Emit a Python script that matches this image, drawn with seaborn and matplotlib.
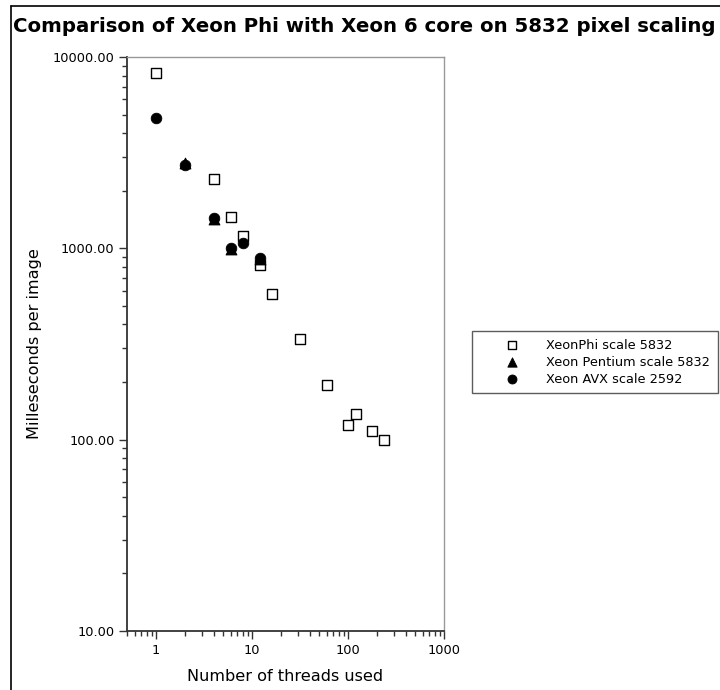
import numpy as np
import pandas as pd
import seaborn as sns
import matplotlib.pyplot as plt
from matplotlib.lines import Line2D
from matplotlib.ticker import FixedLocator, FuncFormatter, LogLocator, NullFormatter

# data
phi_threads = [1, 4, 6, 8, 12, 16, 32, 60, 100, 120, 180, 240]
phi_ms = [8250, 2300, 1460, 1160, 818, 577, 336, 193, 119, 136, 111, 100]

pentium_threads = [2, 4, 6, 12]
pentium_ms = [2800, 1420, 990, 875]

avx_threads = [1, 2, 4, 6, 8, 12]
avx_ms = [4800, 2720, 1440, 1000, 1065, 885]

sns.set_theme(style="white")
plt.rcParams['font.family'] = ['DejaVu Sans']
plt.rcParams['text.color'] = 'black'
plt.rcParams['axes.labelcolor'] = 'black'
plt.rcParams['xtick.color'] = 'black'
plt.rcParams['ytick.color'] = 'black'

fig = plt.figure(figsize=(7.2, 6.9), dpi=100)
ax = fig.add_axes([127 / 720, 1 - 631 / 690, (444 - 127) / 720, (631 - 57) / 690])

phi = pd.DataFrame({'threads': phi_threads, 'ms': phi_ms})
pent = pd.DataFrame({'threads': pentium_threads, 'ms': pentium_ms})
avx = pd.DataFrame({'threads': avx_threads, 'ms': avx_ms})

sns.scatterplot(data=phi, x='threads', y='ms', marker='s', s=55, facecolor='white',
                edgecolor='black', linewidth=1.0, label='XeonPhi scale 5832', ax=ax, zorder=3)
sns.scatterplot(data=pent, x='threads', y='ms', marker='^', s=62, color='black',
                edgecolor='black', label='Xeon Pentium scale 5832', ax=ax, zorder=4)
sns.scatterplot(data=avx, x='threads', y='ms', marker='o', s=58, color='black',
                edgecolor='black', label='Xeon AVX scale 2592', ax=ax, zorder=5)

ax.set_xscale('log')
ax.set_yscale('log')
ax.set_xlim(0.5, 1000)
ax.set_ylim(10, 10000)

ax.xaxis.set_major_locator(FixedLocator([1, 10, 100, 1000]))
ax.xaxis.set_major_formatter(FuncFormatter(lambda v, p: f"{v:g}"))
ax.xaxis.set_minor_locator(LogLocator(base=10, subs=np.arange(2, 10)))
ax.xaxis.set_minor_formatter(NullFormatter())
ax.yaxis.set_major_locator(FixedLocator([10, 100, 1000, 10000]))
ax.yaxis.set_major_formatter(FuncFormatter(lambda v, p: f"{v:.2f}"))
ax.yaxis.set_minor_locator(LogLocator(base=10, subs=np.arange(2, 10)))
ax.yaxis.set_minor_formatter(NullFormatter())

ax.tick_params(axis='both', which='major', direction='out', length=6, width=1,
               color='#333333', labelsize=9.3, left=True, bottom=True, pad=3)
ax.tick_params(axis='both', which='minor', direction='out', length=3.5, width=1,
               color='#333333', left=True, bottom=True)

for side in ['left', 'bottom']:
    ax.spines[side].set_color('#333333')
    ax.spines[side].set_linewidth(1.3)
for side in ['top', 'right']:
    ax.spines[side].set_color('#999999')
    ax.spines[side].set_linewidth(1.0)

ax.set_xlabel('Number of threads used', fontsize=11.6, labelpad=9)
ax.set_ylabel('Milleseconds per image', fontsize=11.6, labelpad=8)

leg = ax.legend(loc='upper left', bbox_to_anchor=(472 / 720, 1 - 331 / 690),
                bbox_transform=fig.transFigure, frameon=True, fancybox=False,
                fontsize=9.3, borderpad=0.6, labelspacing=0.3, handletextpad=0.15,
                borderaxespad=0, markerscale=0.85, handlelength=5.0)
leg.get_frame().set_edgecolor('#333333')
leg.get_frame().set_linewidth(1.0)

fig.text(13 / 720, 1 - 27 / 690, 'Comparison of Xeon Phi with Xeon 6 core on 5832 pixel scaling',
         fontsize=14.2, fontweight='bold', va='center', ha='left')

# outer frame of the picture (left and top edges)
fig.add_artist(Line2D([11 / 720, 11 / 720], [0, 1 - 6 / 690], color='black', lw=1.2))
fig.add_artist(Line2D([11 / 720, 1], [1 - 6 / 690, 1 - 6 / 690], color='black', lw=1.2))

fig.savefig('out.png', dpi=100)
